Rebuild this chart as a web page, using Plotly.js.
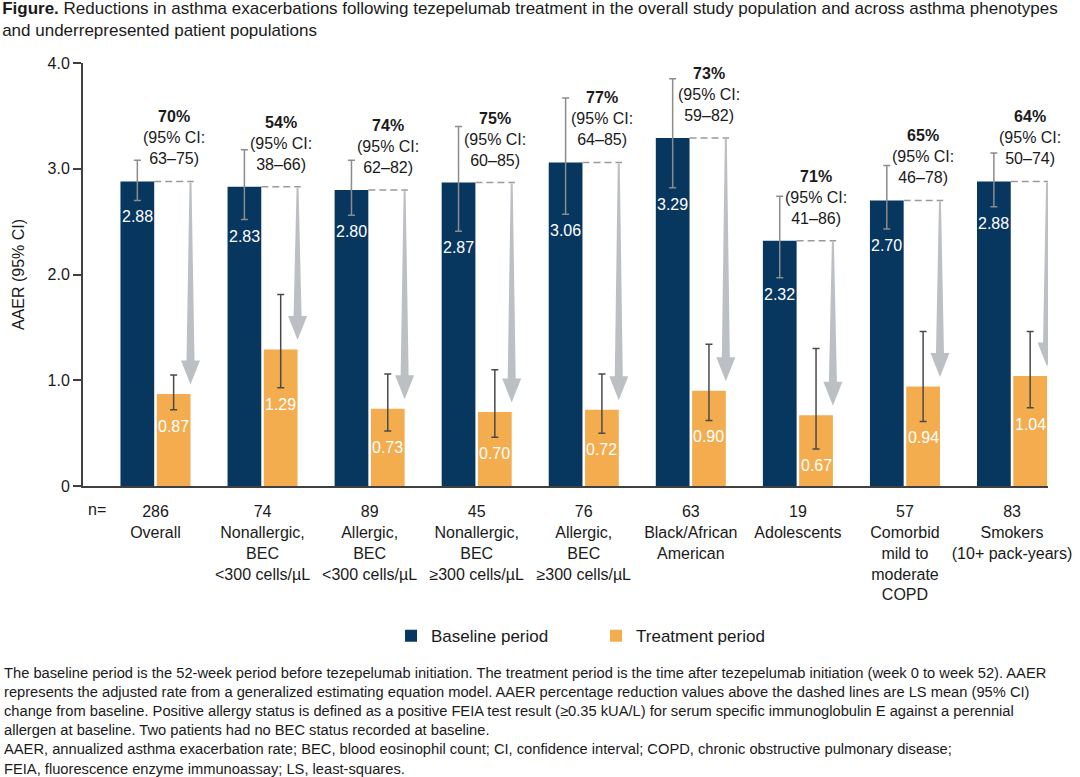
<!DOCTYPE html>
<html>
<head>
<meta charset="utf-8">
<script src="https://cdn.plot.ly/plotly-3.0.1.min.js"></script>
<style>
  html, body { margin: 0; padding: 0; background: #ffffff; }
  #chart { width: 1080px; height: 777px; }
</style>
</head>
<body>
<div id="chart"></div>
<script>
// ---------------- data ----------------
const categories = [
  'Overall',
  'Nonallergic,<br>BEC<br>&lt;300 cells/µL',
  'Allergic,<br>BEC<br>&lt;300 cells/µL',
  'Nonallergic,<br>BEC<br>≥300 cells/µL',
  'Allergic,<br>BEC<br>≥300 cells/µL',
  'Black/African<br>American',
  'Adolescents',
  'Comorbid<br>mild to<br>moderate<br>COPD',
  'Smokers<br>(10+ pack-years)'
];
const nValues = [286, 74, 89, 45, 76, 63, 19, 57, 83];

const baseline   = [2.88, 2.83, 2.80, 2.87, 3.06, 3.29, 2.32, 2.70, 2.88];
const baselineLo = [2.70, 2.52, 2.56, 2.41, 2.57, 2.82, 1.97, 2.43, 2.64];
const baselineHi = [3.08, 3.18, 3.08, 3.40, 3.67, 3.85, 2.74, 3.03, 3.15];

const treatment   = [0.87, 1.29, 0.73, 0.70, 0.72, 0.90, 0.67, 0.94, 1.04];
const treatmentLo = [0.72, 0.93, 0.52, 0.46, 0.50, 0.62, 0.35, 0.61, 0.74];
const treatmentHi = [1.05, 1.81, 1.06, 1.10, 1.06, 1.34, 1.30, 1.46, 1.46];

const reduction   = [70, 54, 74, 75, 77, 73, 71, 65, 64];
const reductionLo = [63, 38, 62, 60, 64, 59, 41, 46, 50];
const reductionHi = [75, 66, 82, 85, 85, 82, 86, 78, 74];

const yTickVals   = [0, 1, 2, 3, 4];
const yTickLabels = ['0', '1.0', '2.0', '3.0', '4.0'];

const seriesNames = ['Baseline period', 'Treatment period'];

const titleText = '<b>Figure.</b> Reductions in asthma exacerbations following tezepelumab treatment in the overall study population and across asthma phenotypes<br>and underrepresented patient populations';
const footnoteLines = [
  'The baseline period is the 52-week period before tezepelumab initiation. The treatment period is the time after tezepelumab initiation (week 0 to week 52). AAER',
  'represents the adjusted rate from a generalized estimating equation model. AAER percentage reduction values above the dashed lines are LS mean (95% CI)',
  'change from baseline. Positive allergy status is defined as a positive FEIA test result (≥0.35 kUA/L) for serum specific immunoglobulin E against a perennial',
  'allergen at baseline. Two patients had no BEC status recorded at baseline.',
  'AAER, annualized asthma exacerbation rate; BEC, blood eosinophil count; CI, confidence interval; COPD, chronic obstructive pulmonary disease;',
  'FEIA, fluorescence enzyme immunoassay; LS, least-squares.'
];

// ---------------- style ----------------
const NAVY = '#07365F';
const ORANGE = '#F3AD4F';
const ARROW = '#BCC0C5';
const FONT = 'Arial, "Liberation Sans", Helvetica, sans-serif';
const TEXT = '#1a1a1a';

const W = 1080, H = 777;
const M = { l: 83, r: 32, t: 63, b: 291 };
const Y_MAX = 4;
const ppu = (H - M.t - M.b) / Y_MAX;   // pixels per data unit on y

const BAR_W = 0.315;
const OFF_B = -0.327;
const OFF_T = 0.012;

const xs = categories.map((_, i) => i);

const traces = [
  {
    type: 'bar', name: seriesNames[0], x: xs, y: baseline,
    width: BAR_W, offset: OFF_B,
    marker: { color: NAVY },
    error_y: {
      type: 'data', symmetric: false,
      array: baseline.map((v, i) => baselineHi[i] - v),
      arrayminus: baseline.map((v, i) => v - baselineLo[i]),
      color: '#8c8c8c', thickness: 1.5, width: 3.5
    },
    hoverinfo: 'skip'
  },
  {
    type: 'bar', name: seriesNames[1], x: xs, y: treatment,
    width: BAR_W, offset: OFF_T,
    marker: { color: ORANGE },
    error_y: {
      type: 'data', symmetric: false,
      array: treatment.map((v, i) => treatmentHi[i] - v),
      arrayminus: treatment.map((v, i) => v - treatmentLo[i]),
      color: '#4a4a4a', thickness: 1.5, width: 3.5
    },
    hoverinfo: 'skip'
  }
];

const annotations = [];
const shapes = [];

xs.forEach(i => {
  const cB = i + OFF_B + BAR_W / 2;
  const cT = i + OFF_T + BAR_W / 2;
  const rightT = i + OFF_T + BAR_W;
  // value labels inside bars
  annotations.push({
    x: cB, y: baselineLo[i], xref: 'x', yref: 'y', text: baseline[i].toFixed(2),
    showarrow: false, yanchor: 'top', yshift: -6,
    font: { family: FONT, size: 16, color: '#ffffff' }
  });
  annotations.push({
    x: cT, y: treatmentLo[i], xref: 'x', yref: 'y', text: treatment[i].toFixed(2),
    showarrow: false, yanchor: 'top', yshift: -6,
    font: { family: FONT, size: 16, color: '#ffffff' }
  });
  // reduction labels
  annotations.push({
    x: cT, y: baseline[i], xref: 'x', yref: 'y',
    text: '<b>' + reduction[i] + '%</b><br>(95% CI:<br>' + reductionLo[i] + '–' + reductionHi[i] + ')',
    showarrow: false, yanchor: 'bottom', yshift: 12,
    font: { family: FONT, size: 16, color: TEXT }
  });
  // dashed reference line
  shapes.push({
    type: 'line', xref: 'x', yref: 'y',
    x0: i + OFF_B + BAR_W, x1: rightT + 0.03, y0: baseline[i], y1: baseline[i],
    line: { color: '#9a9a9a', width: 1.5, dash: '7px,4px' }
  });
  // downward arrow
  const yTop = baseline[i] - 1 / ppu;
  const yTip = treatment[i] + 9.5 / ppu;
  const yHead = yTip + 24 / ppu;
  shapes.push({
    type: 'path', xref: 'x', yref: 'y', xsizemode: 'pixel', xanchor: rightT,
    path: 'M -1 ' + yTop + ' L 1 ' + yTop + ' L 4 ' + yHead + ' L 9.5 ' + yHead +
          ' L 0 ' + yTip + ' L -9.5 ' + yHead + ' L -4 ' + yHead + ' Z',
    fillcolor: ARROW, line: { width: 0 }, layer: 'above'
  });
});

// "n=" row label
annotations.push({
  x: 0.0142, y: -0.0544, xref: 'paper', yref: 'paper', text: 'n=',
  showarrow: false, xanchor: 'center', yanchor: 'middle',
  font: { family: FONT, size: 16, color: TEXT }
});

// footnote
annotations.push({
  x: -0.084, y: -0.418, xref: 'paper', yref: 'paper',
  text: footnoteLines.join('<br>'), align: 'left',
  showarrow: false, xanchor: 'left', yanchor: 'top',
  font: { family: FONT, size: 14.7, color: TEXT }
});

const layout = {
  width: W, height: H,
  margin: M,
  paper_bgcolor: '#ffffff', plot_bgcolor: '#ffffff',
  font: { family: FONT, size: 16, color: TEXT },
  title: {
    text: titleText, x: 0.002, xanchor: 'left', xref: 'container',
    y: 0.982, yanchor: 'top', yref: 'container',
    font: { family: FONT, size: 17, color: TEXT }
  },
  barmode: 'overlay',
  showlegend: true,
  legend: {
    orientation: 'h', x: 0.3192, xanchor: 'left', y: -0.355, yanchor: 'middle',
    font: { family: FONT, size: 17, color: TEXT },
    entrywidth: 160, entrywidthmode: 'pixels', bgcolor: 'rgba(0,0,0,0)'
  },
  xaxis: {
    range: [-0.677, 8.336], tickmode: 'array', tickvals: xs,
    ticktext: categories.map((c, i) => nValues[i] + '<br>' + c),
    ticks: '', showgrid: false, zeroline: false,
    showline: true, linecolor: '#404040', linewidth: 2,
    tickfont: { family: FONT, size: 16, color: TEXT },
    ticklabelstandoff: 10,
    fixedrange: true
  },
  yaxis: {
    range: [0, Y_MAX], tickmode: 'array', tickvals: yTickVals, ticktext: yTickLabels,
    ticks: 'outside', ticklen: 8, tickwidth: 2, tickcolor: '#404040',
    showgrid: false, zeroline: false,
    showline: true, linecolor: '#404040', linewidth: 2,
    tickfont: { family: FONT, size: 16, color: TEXT },
    title: { text: 'AAER (95% CI)', font: { family: FONT, size: 16, color: TEXT }, standoff: 19 },
    fixedrange: true
  },
  annotations: annotations,
  shapes: shapes
};

Plotly.newPlot('chart', traces, layout, { displayModeBar: false, staticPlot: true });
</script>
</body>
</html>
